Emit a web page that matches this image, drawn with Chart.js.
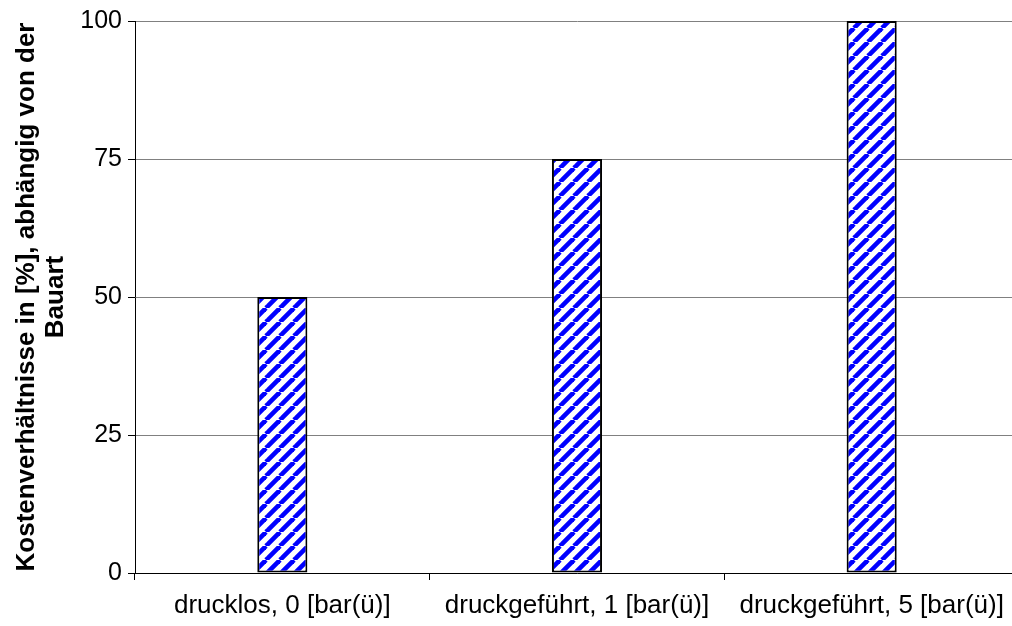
<!DOCTYPE html>
<html>
<head>
<meta charset="utf-8">
<script src="https://cdn.jsdelivr.net/npm/chart.js@4/dist/chart.umd.min.js"></script>
<style>
  html, body { margin: 0; padding: 0; background: #fff; overflow: hidden; }
  #wrap { width: 1019px; height: 626px; }
</style>
</head>
<body>
<div id="wrap"><canvas id="c" width="1019" height="626"></canvas></div>
<script>
// Bauart categories and relative cost values (%)
const categories = ['drucklos, 0 [bar(ü)]', 'druckgeführt, 1 [bar(ü)]', 'druckgeführt, 5 [bar(ü)]'];
const costShare = [50, 75, 100];
const yTicks = [0, 25, 50, 75, 100];
const yTitle = ['Kostenverhältnisse in [%], abhängig von der', 'Bauart'];

// Blue "/" diagonal hatch fill
function hatchPattern() {
  const s = 14;
  const p = document.createElement('canvas');
  p.width = s; p.height = s;
  const g = p.getContext('2d');
  g.fillStyle = '#ffffff';
  g.fillRect(0, 0, s, s);
  g.strokeStyle = '#0000ff';
  g.lineWidth = 4.6;
  for (const x0 of [-s, 0, s]) {
    g.beginPath();
    g.moveTo(x0, s);
    g.lineTo(x0 + s, 0);
    g.stroke();
  }
  return g.createPattern(p, 'repeat');
}

const font = "'Liberation Sans', Arial, sans-serif";

new Chart(document.getElementById('c'), {
  type: 'bar',
  data: {
    labels: categories,
    datasets: [{
      data: costShare,
      backgroundColor: hatchPattern(),
      borderColor: '#000000',
      borderWidth: 2,
      borderSkipped: false,
      categoryPercentage: 1,
      barPercentage: 0.17
    }]
  },
  options: {
    responsive: false,
    devicePixelRatio: 1,
    animation: false,
    layout: { padding: { top: 21, left: 0, right: 0, bottom: 0 } },
    plugins: { legend: { display: false }, tooltip: { enabled: false } },
    scales: {
      x: {
        offset: true,
        grid: { offset: true, drawOnChartArea: false, drawTicks: true, tickLength: 7, tickColor: '#000000' },
        border: { color: '#000000', width: 1 },
        ticks: { color: '#000000', padding: 10, maxRotation: 0, font: { family: font, size: 26 } },
        afterFit: s => { s.height = 53; }
      },
      y: {
        min: 0,
        max: 100,
        afterBuildTicks: s => { s.ticks = yTicks.map(v => ({ value: v })); },
        grid: { color: '#808080', lineWidth: 1, tickLength: 7, tickColor: '#000000' },
        border: { color: '#000000', width: 1 },
        ticks: { color: '#000000', padding: 6, font: { family: font, size: 25 } },
        title: {
          display: true,
          text: yTitle,
          color: '#000000',
          padding: { top: 13, bottom: 0 },
          font: { family: font, size: 26, weight: 'bold', lineHeight: 1.1 }
        },
        afterFit: s => { s.width = 135; }
      }
    }
  }
});
</script>
</body>
</html>
